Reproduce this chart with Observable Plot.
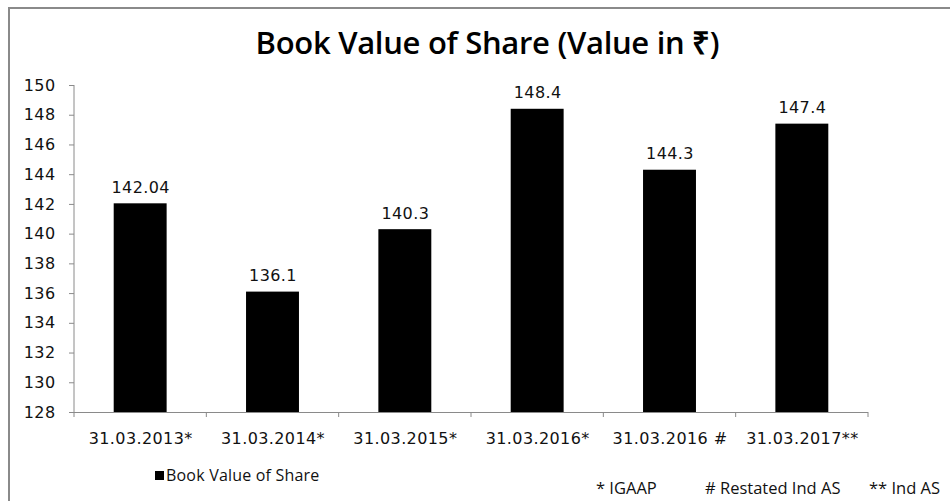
<!DOCTYPE html>
<html>
<head>
<meta charset="utf-8">
<script src="https://cdn.jsdelivr.net/npm/d3@7"></script>
<script src="https://cdn.jsdelivr.net/npm/@observablehq/plot@0.6"></script>
<style>
  html, body { margin: 0; padding: 0; background: #fff; overflow: hidden; }
  #wrap { position: relative; width: 950px; height: 501px; overflow: hidden; }
  #border { position: absolute; left: 8px; top: 7px; width: 2000px; height: 2000px; border-left: 2px solid #8a8a8a; border-top: 2px solid #8a8a8a; box-sizing: border-box; }
  #title { position: absolute; left: 0; width: 975px; top: 21px; text-align: center; font-family: "Open Sans", sans-serif; font-size: 31px; font-weight: 600; letter-spacing: -0.3px; color: #000; }
  #chart { position: absolute; left: 0; top: 0; }
  #legend { position: absolute; left: 155px; top: 464px; font-family: "Open Sans", sans-serif; font-size: 16px; color: #111; display: flex; align-items: center; letter-spacing: 0.2px; }
  #legend .sw { width: 9px; height: 9px; background: #000; margin-right: 2px; }
  .note { position: absolute; top: 476px; font-family: "Open Sans", sans-serif; font-size: 16.5px; color: #111; white-space: pre; word-spacing: 0px; }
</style>
</head>
<body>
<div id="wrap">
  <div id="border"></div>
  <div id="title">Book Value of Share (Value in ₹)</div>
  <div id="chart"></div>
  <div id="legend"><span class="sw"></span><span>Book Value of Share</span></div>
  <div class="note" style="left:596px">* IGAAP</div>
  <div class="note" style="left:705px"># Restated Ind AS</div>
  <div class="note" style="left:869px">** Ind AS</div>
</div>
<script>
const categories = ["31.03.2013*", "31.03.2014*", "31.03.2015*", "31.03.2016*", "31.03.2016 #", "31.03.2017**"];
const values = [142.04, 136.1, 140.3, 148.4, 144.3, 147.4];
const valueLabels = ["142.04", "136.1", "140.3", "148.4", "144.3", "147.4"];
const yTicks = [128, 130, 132, 134, 136, 138, 140, 142, 144, 146, 148, 150];
const yMin = 128, yMax = 150;

const data = categories.map((c, i) => ({cat: c, value: values[i], label: valueLabels[i]}));
const axisColor = "#8a8a8a";

const plot = Plot.plot({
  width: 950,
  height: 501,
  marginLeft: 74,
  marginRight: 82,
  marginTop: 85,
  marginBottom: 89,
  style: {background: "transparent", fontFamily: "DejaVu Sans, sans-serif", fontSize: "16px", color: "#111"},
  x: {domain: categories, paddingInner: 0.6, paddingOuter: 0.3, round: false},
  y: {domain: [yMin, yMax]},
  marks: [
    Plot.barY(data, {x: "cat", y1: yMin, y2: "value", fill: "#000"}),
    Plot.text(data, {x: "cat", y: "value", text: "label", lineAnchor: "bottom", dy: -11, fontSize: 16, fill: "#111"}),
    Plot.axisY({ticks: yTicks, tickSize: 5, tickPadding: 14, stroke: axisColor, fill: "#111", label: null, fontSize: 16}),
    Plot.axisX({tickSize: 0, tickPadding: 20, fill: "#111", label: null, fontSize: 16}),
    Plot.ruleY([yMin], {stroke: axisColor, strokeWidth: 1})
  ]
});
document.getElementById("chart").appendChild(plot);

// y-axis line and boundary tick marks on x axis (Excel style), from the library's scales
const xs = plot.scale("x");
const ys = plot.scale("y");
const step = xs.step;
const svg = d3.select(plot);
const yBase = ys.apply(yMin), yTop = ys.apply(yMax);
const x0 = xs.apply(categories[0]) - xs.paddingOuter * step;
svg.append("line").attr("x1", x0).attr("x2", x0).attr("y1", yTop).attr("y2", yBase + 5)
  .attr("stroke", axisColor);
categories.forEach((c, i) => {
  const xb = x0 + (i + 1) * step;
  svg.append("line").attr("x1", xb).attr("x2", xb).attr("y1", yBase).attr("y2", yBase + 5)
    .attr("stroke", axisColor);
});
svg.selectAll("text").style("letter-spacing", "0.4px");
</script>
</body>
</html>
